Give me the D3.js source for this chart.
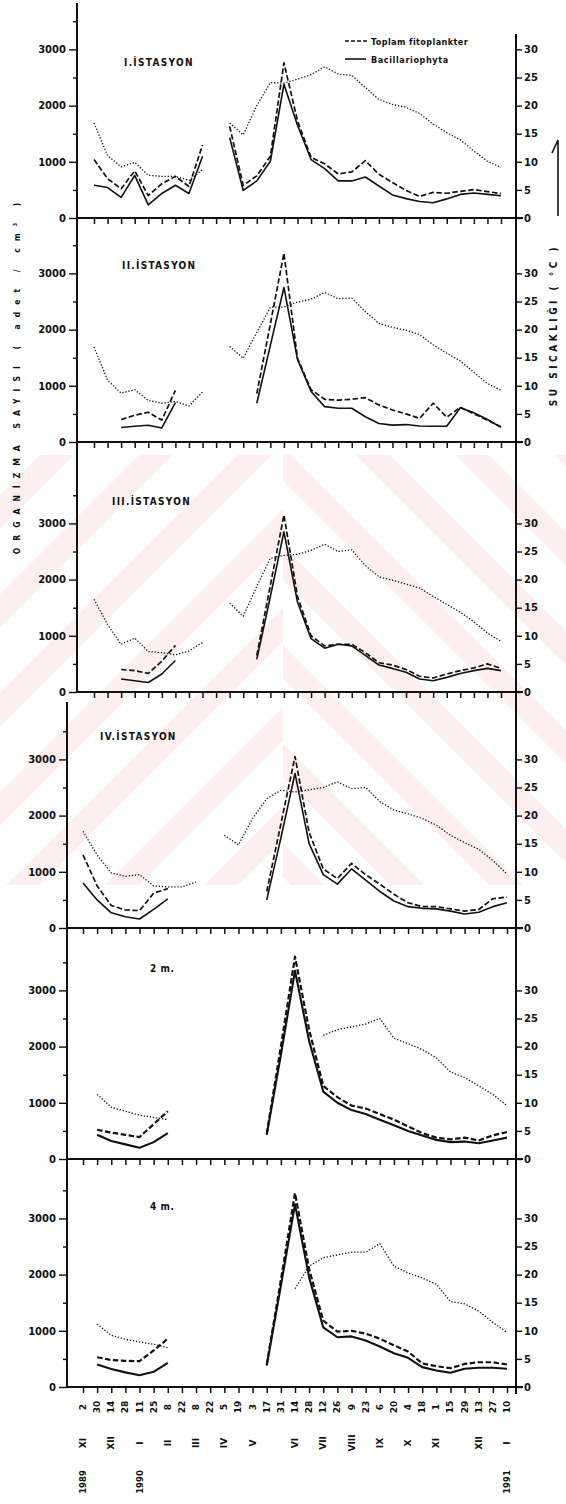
<!DOCTYPE html>
<html>
<head>
<meta charset="utf-8">
<script src="https://cdn.jsdelivr.net/npm/d3@7"></script>
<style>
  body { margin: 0; background: #fff; }
  svg text { font-family: "DejaVu Sans", sans-serif; font-weight: bold; fill: #111; }
  svg text.cond { font-family: "DejaVu Sans Condensed", "DejaVu Sans", sans-serif; }
</style>
</head>
<body>
<svg id="chart" width="566" height="1504"></svg>
<script>
// sampling dates (day of month), month and year labels under the bottom panel
const dates = ["2","30","14","28","11","25","8","22","8","22","5","19","3","17","31",
  "14","28","12","26","9","23","6","20","4","18","1","15","29","13","27","10"];
const monthAt = [0, 2, 4, 6, 8, 10, 12, 15, 17, 19, 21, 23, 25, 28, 30];
const months = ["XI","XII","I","II","III","IV","V","VI","VII","VIII","IX","X","XI","XII","I"];
const yearAt = [0, 4, 30];
const years = ["1989", "1990", "1991"];
const stations = ["I.İSTASYON", "II.İSTASYON", "III.İSTASYON", "IV.İSTASYON", "2 m.", "4 m."];
const countTicks = [0, 500, 1000, 1500, 2000, 2500, 3000, 3500];
const tempTicks = [0, 5, 10, 15, 20, 25, 30];

const _ = null;
// water temperature (°C), total phytoplankton and Bacillariophyta (adet / cm3)
const temp1 = [16.9,11.1,9.1,9.9,7.6,7.4,7.4,6.7,8.6,_,16.9,14.8,20.0,24.1,24.0,24.7,25.5,26.9,25.6,25.4,23.2,21.1,20.2,19.7,18.6,16.7,15.2,13.9,11.9,10.1,9.0];
const total1 = [1040,700,520,840,400,610,740,560,1300,_,1630,580,750,1100,2760,1730,1080,965,785,820,1020,780,630,490,385,455,440,475,505,470,435];
const bacil1 = [583,542,367,757,233,437,583,437,1100,_,1430,490,660,1010,2380,1650,1040,880,660,660,730,570,410,345,295,270,340,420,445,420,395];

const temp2 = [16.9,11.0,8.7,9.3,7.4,6.9,7.2,6.4,8.9,_,17.0,14.9,19.5,24.0,24.0,24.9,25.4,26.6,25.5,25.6,23.2,21.1,20.4,19.9,19.1,17.3,15.8,14.4,12.4,10.4,9.2];
const total2 = [_,_,400,475,530,390,920,_,_,_,_,_,860,2100,3360,1490,930,760,745,760,790,660,570,500,420,690,440,620,500,390,270];
const bacil2 = [_,_,257,280,297,250,700,_,_,_,_,_,690,1720,2750,1470,900,630,600,600,450,330,300,310,285,280,280,610,520,400,260];

const temp3 = [16.5,12.0,8.5,9.6,7.2,7.0,6.6,7.3,8.8,_,15.8,13.5,18.8,23.8,24.3,24.5,25.2,26.3,25.0,25.3,22.5,20.5,19.9,19.2,18.5,17.0,15.6,14.2,12.5,10.5,9.0];
const total3 = [_,_,400,380,330,550,830,_,_,_,_,_,650,1900,3150,1700,1000,820,850,850,700,520,480,400,280,250,320,380,430,500,420];
const bacil3 = [_,_,230,200,170,320,560,_,_,_,_,_,580,1700,2850,1600,950,780,850,820,650,480,420,350,230,200,260,330,380,420,380];

const temp4 = [17.2,13.0,9.8,9.2,9.5,7.5,7.3,7.3,8.2,_,16.5,14.8,19.5,23.0,24.5,24.2,24.6,25.0,26.0,24.8,25.0,22.5,21.0,20.3,19.5,18.3,16.5,15.2,14.0,12.0,9.6];
const total4 = [1300,750,400,320,310,620,700,_,_,_,_,_,_,650,1850,3050,1700,1050,880,1150,950,780,600,450,380,380,340,300,330,520,550];
const bacil4 = [800,500,270,200,160,330,520,_,_,_,_,_,_,500,1600,2750,1500,950,780,1050,850,650,480,380,350,340,300,250,280,380,450];

const temp5 = [_,11.5,9.2,8.5,7.8,7.4,7.0,_,_,_,_,_,_,_,_,_,_,22.0,23.0,23.5,24.0,25.0,21.5,20.5,19.5,18.0,15.5,14.5,13.0,11.5,9.5];
const total5 = [_,520,470,430,390,620,850,_,_,_,_,_,_,450,2000,3600,2300,1300,1100,950,900,800,700,580,460,380,350,380,330,420,480];
const bacil5 = [_,430,320,260,200,300,460,_,_,_,_,_,_,430,1850,3350,2100,1200,1000,870,800,700,600,500,420,340,300,310,280,330,380];

const temp6 = [_,11.2,9.2,8.5,8.0,7.6,7.0,_,_,_,_,_,_,_,_,17.5,21.5,23.0,23.5,24.0,24.0,25.5,21.5,20.3,19.4,18.3,15.2,14.8,13.5,11.5,9.7];
const total6 = [_,530,480,465,460,650,860,_,_,_,_,_,_,400,1900,3450,2100,1180,985,1000,950,860,740,630,420,370,335,410,440,440,400];
const bacil6 = [_,400,320,260,210,270,430,_,_,_,_,_,_,380,1800,3250,1950,1060,885,900,826,720,600,520,354,295,254,325,343,343,325];

const panels = [
  {temp: temp1, total: total1, bacil: bacil1},
  {temp: temp2, total: total2, bacil: bacil2},
  {temp: temp3, total: total3, bacil: bacil3},
  {temp: temp4, total: total4, bacil: bacil4},
  {temp: temp5, total: total5, bacil: bacil5},
  {temp: temp6, total: total6, bacil: bacil6}
];

// page layout (the scanned panels were pasted in two slightly shifted blocks)
const layout = [
  {zero: 218,  top: 3,   axis: 77, x0: 94, x1: 501, tx: 124, ty: 66},
  {zero: 442,  top: 218, axis: 77, x0: 94, x1: 501, tx: 122, ty: 269},
  {zero: 692,  top: 442, axis: 77, x0: 94, x1: 501, tx: 112, ty: 505},
  {zero: 928,  top: 702, axis: 67, x0: 83, x1: 507, tx: 100, ty: 740},
  {zero: 1159, top: 928, axis: 67, x0: 83, x1: 507, tx: 150, ty: 972},
  {zero: 1387, top: 1159, axis: 67, x0: 83, x1: 507, tx: 150, ty: 1210}
];
const K = 0.0562;        // px per organism
const rightX = 516;

const svg = d3.select("#chart");
const ink = "#111";

// faint pink watermark of the scan
const defs = svg.append("defs");
[["wmL", 45], ["wmR", -45]].forEach(([id, ang]) => {
  const pat = defs.append("pattern").attr("id", id)
    .attr("patternUnits", "userSpaceOnUse").attr("width", 70).attr("height", 70)
    .attr("patternTransform", "rotate(" + ang + ")");
  pat.append("rect").attr("width", 24).attr("height", 70).attr("fill", "#fdeef0");
});
svg.append("rect").attr("x", 0).attr("y", 455).attr("width", 283).attr("height", 430).attr("fill", "url(#wmL)");
svg.append("rect").attr("x", 283).attr("y", 455).attr("width", 283).attr("height", 430).attr("fill", "url(#wmR)");

// continuous right axis
svg.append("line").attr("x1", rightX).attr("x2", rightX).attr("y1", 34).attr("y2", 1394)
  .attr("stroke", ink).attr("stroke-width", 2);

panels.forEach((p, i) => {
  const lay = layout[i];
  const x = d3.scaleLinear().domain([0, 30]).range([lay.x0, lay.x1]);
  const y = d3.scaleLinear().domain([0, 3000]).range([lay.zero, lay.zero - 3000 * K]);
  const t = d3.scaleLinear().domain([0, 30]).range(y.range());
  const g = svg.append("g");
  const bold = i >= 4 ? 0.5 : 0;

  // left axis
  g.append("line").attr("x1", lay.axis).attr("x2", lay.axis).attr("y1", lay.top).attr("y2", lay.zero)
    .attr("stroke", ink).attr("stroke-width", 2);
  const la = g.append("g").attr("transform", "translate(" + lay.axis + ",0)")
    .call(d3.axisLeft(y).tickValues(countTicks).tickSize(8).tickPadding(3).tickSizeOuter(0)
      .tickFormat(d => d % 1000 ? "" : d));
  la.select(".domain").remove();
  la.selectAll(".tick line").attr("stroke", ink).attr("stroke-width", 1.4)
    .attr("x2", d => d % 1000 ? -4 : -8);
  la.selectAll(".tick text").attr("font-size", 10).attr("font-family", null);

  // right axis (temperature)
  const ra = g.append("g").attr("transform", "translate(" + rightX + ",0)")
    .call(d3.axisRight(t).tickValues(tempTicks).tickSize(6).tickPadding(2).tickSizeOuter(0));
  ra.select(".domain").remove();
  ra.selectAll(".tick line").attr("stroke", ink).attr("stroke-width", 1.4);
  ra.selectAll(".tick text").attr("font-size", 10).attr("font-family", null);

  // zero line with hanging ticks
  g.append("line").attr("x1", lay.axis).attr("x2", rightX + 7).attr("y1", lay.zero).attr("y2", lay.zero)
    .attr("stroke", ink).attr("stroke-width", 1.8);
  const xa = g.append("g").attr("transform", "translate(0," + lay.zero + ")")
    .call(d3.axisBottom(x).tickValues(d3.range(31)).tickSize(6).tickFormat(""));
  xa.select(".domain").remove();
  xa.selectAll(".tick line").attr("stroke", ink).attr("stroke-width", 1.5);

  // series
  const line = sc => d3.line().defined(d => d != null).x((d, j) => x(j)).y(d => sc(d));
  g.append("path").attr("d", line(t)(p.temp)).attr("fill", "none").attr("stroke", ink)
    .attr("stroke-width", 1.3).attr("stroke-dasharray", "1.3,1.8");
  g.append("path").attr("d", line(y)(p.total)).attr("fill", "none").attr("stroke", ink)
    .attr("stroke-width", 1.7 + bold).attr("stroke-dasharray", "5.5,2.5").attr("stroke-linejoin", "round");
  g.append("path").attr("d", line(y)(p.bacil)).attr("fill", "none").attr("stroke", ink)
    .attr("stroke-width", 1.6 + bold).attr("stroke-linejoin", "round");

  g.append("text").attr("class", "cond").attr("x", lay.tx).attr("y", lay.ty).attr("font-size", 10)
    .attr("letter-spacing", i < 4 ? 1.3 : 0.6).text(stations[i]);

  if (i === 5) {
    g.selectAll("text.date").data(dates).join("text").attr("class", "date")
      .attr("transform", (d, j) => "translate(" + x(j) + ",1407) rotate(-90)")
      .attr("text-anchor", "middle").attr("dominant-baseline", "central")
      .attr("font-size", 9).text(d => d);
    g.selectAll("text.month").data(months).join("text").attr("class", "month")
      .attr("transform", (d, j) => "translate(" + x(monthAt[j]) + ",1443) rotate(-90)")
      .attr("text-anchor", "middle").attr("dominant-baseline", "central")
      .attr("font-size", 9).text(d => d);
    g.selectAll("text.year").data(years).join("text").attr("class", "year")
      .attr("transform", (d, j) => "translate(" + x(yearAt[j]) + ",1482) rotate(-90)")
      .attr("text-anchor", "middle").attr("dominant-baseline", "central")
      .attr("font-size", 8.5).text(d => d);
  }
});

// legend
const leg = svg.append("g");
leg.append("line").attr("x1", 345).attr("x2", 368).attr("y1", 41).attr("y2", 41)
  .attr("stroke", ink).attr("stroke-width", 1.5).attr("stroke-dasharray", "4,2");
leg.append("text").attr("class", "cond").attr("x", 371).attr("y", 44.5).attr("font-size", 9)
  .attr("letter-spacing", 0.4).text("Toplam  fitoplankter");
leg.append("line").attr("x1", 345).attr("x2", 366).attr("y1", 59).attr("y2", 59)
  .attr("stroke", ink).attr("stroke-width", 1.6);
leg.append("text").attr("class", "cond").attr("x", 371).attr("y", 62.5).attr("font-size", 9)
  .attr("letter-spacing", 0.6).text("Bacillariophyta");

// axis titles
svg.append("text").attr("class", "cond").attr("transform", "translate(17,375) rotate(-90)")
  .attr("text-anchor", "middle").attr("dominant-baseline", "central")
  .attr("font-size", 8.5).attr("letter-spacing", 7).text("ORGANİZMA  SAYISI  ( adet / cm³ )");
svg.append("text").attr("class", "cond").attr("transform", "translate(553,325) rotate(-90)")
  .attr("text-anchor", "middle").attr("dominant-baseline", "central")
  .attr("font-size", 10).attr("letter-spacing", 3.5).text("SU  SICAKLIĞI  ( °C )");
svg.append("path").attr("d", "M552,153L558,140L558,216").attr("fill", "none")
  .attr("stroke", ink).attr("stroke-width", 1.6);
</script>
</body>
</html>
